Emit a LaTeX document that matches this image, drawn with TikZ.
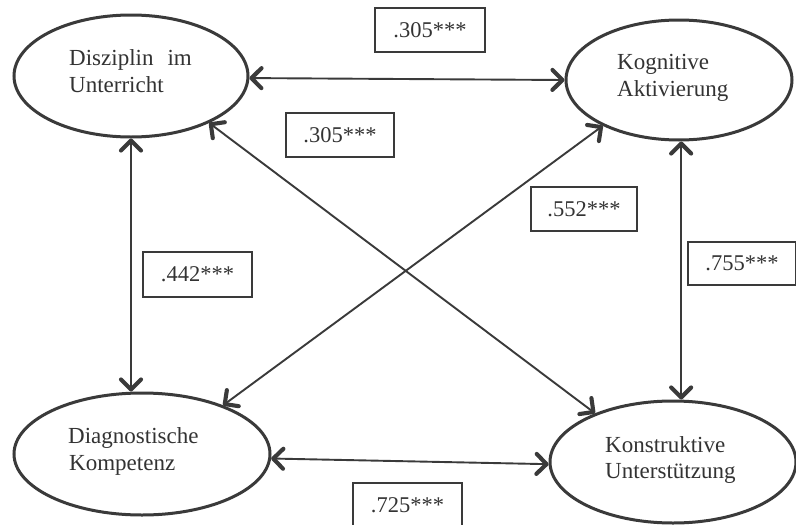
\documentclass[tikz,border=0pt]{standalone}
\usepackage{fontspec}
\setmainfont{Liberation Serif}
\usetikzlibrary{shapes.geometric,arrows.meta}
\definecolor{ink}{HTML}{3A3A3A}
\definecolor{txt}{HTML}{333333}
\tikzset{
  latent/.style={ellipse, draw=ink, line width=3pt, inner sep=0pt},
  lbl/.style={anchor=base west, inner sep=0pt, text=txt, font=\fontsize{23}{27}\selectfont},
  coef/.style={draw=ink, line width=1.4pt, inner sep=0pt, text=txt, font=\fontsize{22.5}{27}\selectfont},
  barb/.tip={Straight Barb[length=10pt,width=20pt,line width=2.2pt 1,round]},
  cov/.style={draw=ink, line width=1.9pt, barb-barb}
}
\begin{document}
\begin{tikzpicture}[x=1pt,y=-1pt]
\useasboundingbox (0,0) rectangle (796,525);
\fill[white] (0,0) rectangle (796,525);

% latent variables
\node[latent, minimum width=234pt, minimum height=122pt] (d1) at (131,76) {};
\node[latent, minimum width=226pt, minimum height=120pt] (d2) at (679,80) {};
\node[latent, minimum width=256pt, minimum height=122pt] (d3) at (142,454) {};
\node[latent, minimum width=246pt, minimum height=122pt] (d4) at (673,462) {};

\node[lbl] (t1a) at (69,65) {Disziplin\hspace{14pt}im};
\node[lbl] (t1b) at (69,92) {Unterricht};
\node[lbl] (t2a) at (617,69) {Kognitive};
\node[lbl] (t2b) at (617,96) {Aktivierung};
\node[lbl] (t3a) at (68,443) {Diagnostische};
\node[lbl] (t3b) at (69,470) {Kompetenz};
\node[lbl] (t4a) at (605,452) {Konstruktive};
\node[lbl] (t4b) at (605,478) {Unterstützung};

% covariances
\draw[cov] (d1.-1) -- (d2.west);
\draw[cov] (d1.south) -- (d1.south |- d3.north);
\draw[cov] (d2.-88) -- (d2.-88 |- d4.north);
\draw[cov] (d3.-2) -- (d4.181);
\draw[cov] (d1.-31) -- (d4.148);
\draw[cov] (d2.211) -- (d3.31.6);

% coefficients
\node[coef, minimum width=110pt, minimum height=44pt] (c1) at (430,30) {.305***};
\node[coef, minimum width=108pt, minimum height=44pt] (c2) at (340,135) {.305***};
\node[coef, minimum width=109pt, minimum height=45pt] (c3) at (197.5,274.5) {.442***};
\node[coef, minimum width=106pt, minimum height=44pt] (c4) at (584,209) {.552***};
\node[coef, minimum width=108pt, minimum height=43pt] (c5) at (742,263.5) {.755***};
\node[coef, minimum width=109pt, minimum height=44pt] (c6) at (407.5,505) {.725***};
\end{tikzpicture}
\end{document}
